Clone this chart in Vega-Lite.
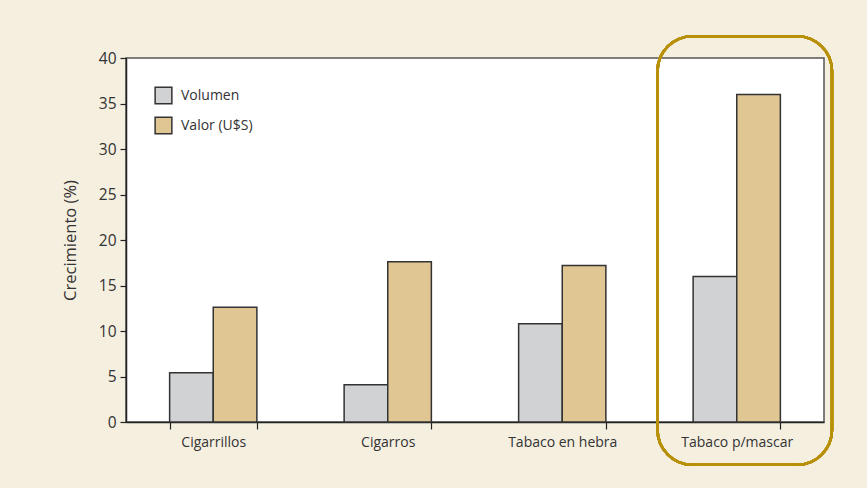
{
  "$schema": "https://vega.github.io/schema/vega-lite/v6.json",
  "width": 698,
  "height": 364,
  "autosize": {"type": "none"},
  "padding": {"left": 126, "top": 58, "right": 43, "bottom": 66},
  "background": "#F5EFE0",
  "config": {
    "font": "Open Sans",
    "view": {"fill": "white", "stroke": "#555555", "strokeWidth": 1.5},
    "axis": {"labelFont": "Open Sans", "titleFont": "Open Sans", "labelColor": "#333333", "titleColor": "#333333", "domainColor": "#222222", "tickColor": "#222222", "domainWidth": 1.5, "tickWidth": 1.2, "grid": false}
  },
  "data": {
    "values": [
      {"cat": "Cigarrillos", "serie": "Volumen", "valor": 5.4},
      {"cat": "Cigarrillos", "serie": "Valor (U$S)", "valor": 12.6},
      {"cat": "Cigarros", "serie": "Volumen", "valor": 4.1},
      {"cat": "Cigarros", "serie": "Valor (U$S)", "valor": 17.6},
      {"cat": "Tabaco en hebra", "serie": "Volumen", "valor": 10.8},
      {"cat": "Tabaco en hebra", "serie": "Valor (U$S)", "valor": 17.2},
      {"cat": "Tabaco p/mascar", "serie": "Volumen", "valor": 16.0},
      {"cat": "Tabaco p/mascar", "serie": "Valor (U$S)", "valor": 36.0}
    ]
  },
  "layer": [
    {
      "mark": {"type": "bar", "stroke": "#333333", "strokeWidth": 1.5},
      "encoding": {
        "x": {
          "field": "cat", "type": "nominal",
          "sort": ["Cigarrillos", "Cigarros", "Tabaco en hebra", "Tabaco p/mascar"],
          "scale": {"paddingInner": 0.5, "paddingOuter": 0.25},
          "axis": {"title": null, "labelAngle": 0, "labelFontSize": 14, "labelPadding": 6, "tickBand": "extent", "tickSize": 7}
        },
        "xOffset": {"field": "serie", "type": "nominal", "sort": ["Volumen", "Valor (U$S)"], "scale": {"paddingInner": 0, "paddingOuter": 0}},
        "y": {
          "field": "valor", "type": "quantitative",
          "scale": {"domain": [0, 40], "nice": false},
          "axis": {"title": "Crecimiento (%)", "titleFontSize": 16.5, "titleFontWeight": "normal", "titlePadding": 20, "values": [0, 5, 10, 15, 20, 25, 30, 35, 40], "labelFontSize": 15.5, "tickSize": 6, "labelPadding": 4}
        },
        "color": {
          "field": "serie", "type": "nominal",
          "scale": {"domain": ["Volumen", "Valor (U$S)"], "range": ["#D1D2D4", "#DFC693"]},
          "legend": {"title": null, "orient": "top-left", "offset": 28, "symbolType": "square", "symbolSize": 280, "symbolStrokeColor": "#333333", "symbolStrokeWidth": 1.5, "labelFont": "Open Sans", "labelFontSize": 14, "labelColor": "#333333", "labelOffset": 8, "rowPadding": 7, "fillColor": null, "strokeColor": null}
        }
      }
    },
    {
      "mark": {"type": "bar", "fill": null, "filled": false, "stroke": "#B8900A", "strokeWidth": 2.5, "cornerRadius": 35, "clip": false, "width": {"band": 2}, "xOffset": 8},
      "encoding": {
        "x": {"datum": "Tabaco p/mascar"},
        "y": {"datum": 42.4},
        "y2": {"datum": -4.7}
      }
    }
  ]
}
